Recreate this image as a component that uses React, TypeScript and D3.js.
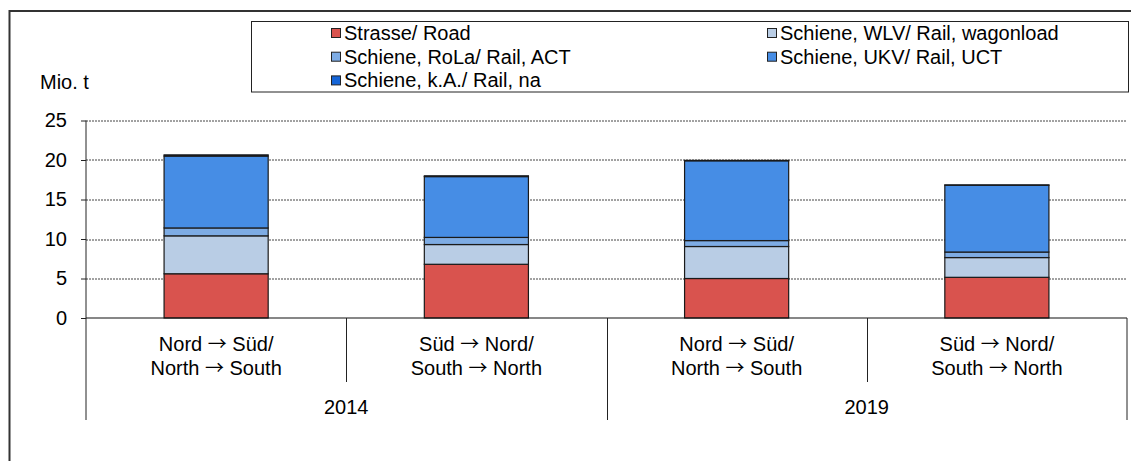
import * as d3 from "d3";
import { useEffect, useRef } from "react";

const years = ["2014", "2019"];
// each label: [before arrow, after arrow]
const directions = [
    [["Nord", "Süd/"], ["North", "South"]],
    [["Süd", "Nord/"], ["South", "North"]],
];
const categories = ["2014 NS", "2014 SN", "2019 NS", "2019 SN"];

const seriesNames = [
    "Strasse/ Road",
    "Schiene, WLV/ Rail, wagonload",
    "Schiene, RoLa/ Rail, ACT",
    "Schiene, UKV/ Rail, UCT",
    "Schiene, k.A./ Rail, na",
];
const seriesColors = ["#D9534E", "#B9CDE5", "#7EACE4", "#468DE5", "#1565D8"];

const road = [5.6, 6.8, 5.0, 5.15];
const wagonload = [4.8, 2.5, 4.05, 2.5];
const act = [1.0, 0.9, 0.75, 0.7];
const uct = [9.1, 7.7, 10.1, 8.45];
const na = [0.15, 0.1, 0.05, 0.05];

const yTicks = [0, 5, 10, 15, 20, 25];

const FONT = "'Liberation Sans', Arial, sans-serif";
const FS = 20;

const Chart = ({ width = 1131, height = 461 }) => {
    const svgRef = useRef(null);

    useEffect(() => {
        const margin = { top: 120.5, left: 86, right: 4, bottom: 143 };
        const innerWidth = width - margin.left - margin.right;
        const innerHeight = height - margin.top - margin.bottom;

        const svg = d3.select(svgRef.current);
        svg.selectAll("*").remove();

        // outer frame
        svg.append("rect")
            .attr("x", 9.5)
            .attr("y", 11)
            .attr("width", width + 20)
            .attr("height", height + 20)
            .attr("fill", "white")
            .attr("stroke", "#333")
            .attr("stroke-width", 2);

        const g = svg
            .append("g")
            .attr("transform", `translate(${margin.left},${margin.top})`);

        const x = d3.scaleBand().domain(categories).range([0, innerWidth]).paddingInner(0).paddingOuter(0);
        const y = d3.scaleLinear().domain([0, 25]).range([innerHeight, 0]);

        // gridlines
        g.selectAll(".grid")
            .data(yTicks.filter((t) => t > 0))
            .join("line")
            .attr("x1", 0)
            .attr("x2", innerWidth)
            .attr("y1", (d) => Math.round(y(d)) + 0.5)
            .attr("y2", (d) => Math.round(y(d)) + 0.5)
            .attr("stroke", "#444")
            .attr("stroke-dasharray", "2,1");

        // stacked bars
        const table = categories.map((c, i) => ({
            cat: c,
            s0: road[i],
            s1: wagonload[i],
            s2: act[i],
            s3: uct[i],
            s4: na[i],
        }));
        const stack = d3.stack().keys(["s0", "s1", "s2", "s3", "s4"])(table);
        const barW = x.bandwidth() * 0.4;

        stack.forEach((layer, li) => {
            g.selectAll(`.bar${li}`)
                .data(layer)
                .join("rect")
                .attr("x", (d) => x(d.data.cat) + (x.bandwidth() - barW) / 2)
                .attr("y", (d) => y(d[1]))
                .attr("width", barW)
                .attr("height", (d) => Math.max(0, y(d[0]) - y(d[1])))
                .attr("fill", seriesColors[li])
                .attr("stroke", "#1a1a1a")
                .attr("stroke-width", 1.2);
        });

        // y axis
        const yAxis = g.append("g").call(d3.axisLeft(y).tickValues(yTicks).tickSize(5).tickPadding(14));
        yAxis.select(".domain").remove();
        yAxis.selectAll("line").attr("stroke", "#222");
        yAxis.selectAll("text")
            .attr("font-family", FONT)
            .attr("font-size", FS)
            .attr("fill", "#000");
        g.append("line")
            .attr("x1", 0).attr("x2", 0)
            .attr("y1", 0).attr("y2", innerHeight + 102)
            .attr("stroke", "#222");

        // x axis line
        g.append("line")
            .attr("x1", 0).attr("x2", innerWidth)
            .attr("y1", innerHeight).attr("y2", innerHeight)
            .attr("stroke", "#111")
            .attr("stroke-width", 1.2);

        // category separators
        categories.forEach((c, i) => {
            if (i === 0) return;
            const xx = Math.round(x(c)) + 0.5;
            g.append("line")
                .attr("x1", xx).attr("x2", xx)
                .attr("y1", innerHeight).attr("y2", innerHeight + (i % 2 === 0 ? 102 : 64))
                .attr("stroke", "#222");
        });
        g.append("line")
            .attr("x1", innerWidth).attr("x2", innerWidth)
            .attr("y1", innerHeight).attr("y2", innerHeight + 102)
            .attr("stroke", "#222");

        // category labels
        categories.forEach((c, i) => {
            const cx = x(c) + x.bandwidth() / 2;
            directions[i % 2].forEach((parts, li) => {
                const t = g.append("text")
                    .attr("x", cx)
                    .attr("y", innerHeight + 33 + li * 23.5)
                    .attr("text-anchor", "middle")
                    .attr("font-family", FONT)
                    .attr("font-size", FS)
                    .attr("fill", "#000");
                t.append("tspan").text(parts[0] + " ");
                t.append("tspan")
                    .attr("font-family", "'Noto Sans CJK SC', sans-serif")
                    .attr("font-size", 19)
                    .text("\u2192");
                t.append("tspan").text(" " + parts[1]);
            });
        });
        years.forEach((yr, i) => {
            g.append("text")
                .attr("x", x(categories[i * 2]) + x.bandwidth())
                .attr("y", innerHeight + 96)
                .attr("text-anchor", "middle")
                .attr("font-family", FONT)
                .attr("font-size", FS)
                .attr("fill", "#000")
                .text(yr);
        });

        // unit label
        svg.append("text")
            .attr("x", 40)
            .attr("y", 89)
            .attr("font-family", FONT)
            .attr("font-size", FS)
            .attr("fill", "#000")
            .text("Mio. t");

        // legend
        const legend = svg.append("g");
        legend.append("rect")
            .attr("x", 251.5).attr("y", 21.5)
            .attr("width", 877).attr("height", 70.5)
            .attr("fill", "white")
            .attr("stroke", "#222");
        seriesNames.forEach((name, i) => {
            const col = i === 1 || i === 3 ? 1 : 0;
            const row = i === 0 || i === 1 ? 0 : i === 2 || i === 3 ? 1 : 2;
            const lx = col === 0 ? 331 : 767;
            const ly = 33 + row * 23.7;
            legend.append("rect")
                .attr("x", lx + 0.5).attr("y", ly - 4.5)
                .attr("width", 9).attr("height", 9)
                .attr("fill", seriesColors[i])
                .attr("stroke", "#222");
            legend.append("text")
                .attr("x", lx + 13)
                .attr("y", ly + 7)
                .attr("font-family", FONT)
                .attr("font-size", FS)
                .attr("fill", "#000")
                .text(name);
        });
    }, [width, height]);

    return <svg ref={svgRef} width={width} height={height} style={{ display: "block" }} />;
};

export default function App() {
    return (
        <>
            <style>{`body{margin:0;overflow:hidden}`}</style>
            <Chart />
        </>
    );
}
